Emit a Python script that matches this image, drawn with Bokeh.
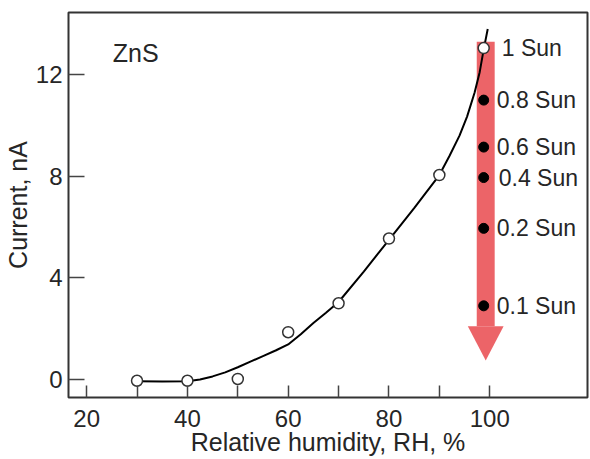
from bokeh.plotting import figure
from bokeh.models import Range1d, FixedTicker, ColumnDataSource
from bokeh.core.properties import value
from bokeh.embed import file_html
from bokeh.resources import INLINE

# ---- data ----
rh_points = [30, 40, 50, 60, 70, 80, 90, 98.8]
current_points = [-0.05, -0.05, 0.02, 1.86, 3.0, 5.55, 8.05, 13.05]

curve_rh = [30, 35, 40, 42.5, 45, 47.5, 50, 52.5, 55, 57.5, 60, 62.5, 65, 67.5, 70, 75, 80, 85, 90, 92, 94, 95.5, 97, 98, 98.8, 99.6]
curve_current = [-0.07, -0.08, -0.07, 0.0, 0.12, 0.28, 0.48, 0.7, 0.92, 1.14, 1.38, 1.78, 2.22, 2.63, 3.05, 4.25, 5.5, 6.75, 8.05, 8.8, 9.6, 10.35, 11.3, 12.1, 13.0, 13.8]

sun_labels = ["1 Sun", "0.8 Sun", "0.6 Sun", "0.4 Sun", "0.2 Sun", "0.1 Sun"]
sun_current = [13.05, 11.0, 9.15, 7.95, 5.95, 2.9]
sun_rh = 98.8
sun_label_dx = [18, 13, 13, 15, 13, 13]

arrow_x = 99.2
arrow_top = 13.3
arrow_head_base = 2.1
arrow_tip = 0.75
arrow_shaft_half = 1.78
arrow_head_half = 3.55

x_ticks = [20, 30, 40, 50, 60, 70, 80, 90, 100]
x_tick_labels = {20: "20", 30: "", 40: "40", 50: "", 60: "60", 70: "", 80: "80", 90: "", 100: "100"}
y_ticks = [0, 4, 8, 12]

FONT = "Liberation Sans"
INK = "#262626"
RED = "#ec6468"

p = figure(width=590, height=459, output_backend="svg", toolbar_location=None,
           x_range=Range1d(16.4, 119.4), y_range=Range1d(-0.71, 14.45),
           min_border_left=68, min_border_right=3, min_border_top=12, min_border_bottom=62)
p.grid.visible = False
p.outline_line_color = "#333333"
p.outline_line_width = 2
p.background_fill_color = "white"
p.border_fill_color = "white"

for ax in (p.xaxis[0], p.yaxis[0]):
    ax.axis_line_color = None
    ax.major_tick_out = 0
    ax.minor_tick_line_color = None
    ax.major_tick_line_color = "#444444"
    ax.major_tick_line_width = 1.5
    ax.major_label_text_font = FONT
    ax.major_label_text_font_size = "24px"
    ax.major_label_text_color = INK
    ax.axis_label_text_font = FONT
    ax.axis_label_text_font_size = "25px"
    ax.axis_label_text_font_style = "normal"
    ax.axis_label_text_color = INK

p.xaxis.ticker = FixedTicker(ticks=x_ticks)
p.xaxis.major_label_overrides = x_tick_labels
p.xaxis.major_tick_in = 12
p.xaxis.major_label_standoff = 12
p.xaxis.axis_label = "Relative humidity, RH, %"
p.xaxis.axis_label_standoff = -2

p.yaxis.ticker = FixedTicker(ticks=y_ticks)
p.yaxis.major_tick_in = 16
p.yaxis.major_label_standoff = 6
p.yaxis.axis_label = "Current, nA"
p.yaxis.axis_label_standoff = 1

# arrow
p.quad(left=[arrow_x - arrow_shaft_half], right=[arrow_x + arrow_shaft_half],
       bottom=[arrow_head_base], top=[arrow_top], fill_color=RED, line_color=None)
p.patch([arrow_x - arrow_head_half, arrow_x + arrow_head_half, arrow_x],
        [arrow_head_base, arrow_head_base, arrow_tip], fill_color=RED, line_color=None)

# fit curve
p.line(curve_rh, curve_current, line_color="black", line_width=2)

# measured points
p.scatter(rh_points, current_points, marker="circle", size=11, fill_color="white",
          line_color="#333333", line_width=1.5)

# sun levels
p.scatter([sun_rh] * 5, sun_current[1:], marker="circle", size=10, fill_color="black", line_color="black")
src = ColumnDataSource(dict(x=[sun_rh] * len(sun_labels), y=sun_current, t=sun_labels, dx=sun_label_dx))
p.text(x="x", y="y", text="t", x_offset="dx", source=src, text_font=value(FONT),
       text_font_size="23px", text_color=INK, text_baseline="middle", text_align="left")

p.text(x=[25.2], y=[12.85], text=["ZnS"], text_font=value(FONT), text_font_size="25px",
       text_color=INK, text_baseline="alphabetic", text_align="left")

open("out.html", "w").write(file_html(p, INLINE))
